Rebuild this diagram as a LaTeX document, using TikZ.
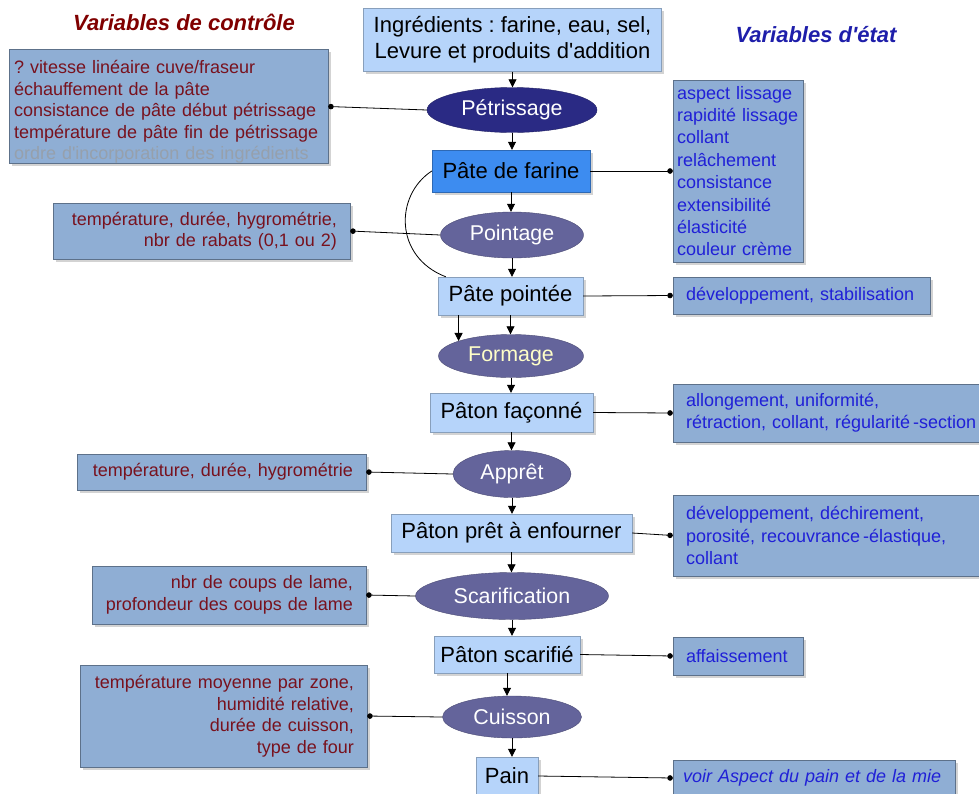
\documentclass[tikz,border=0pt]{standalone}
\usepackage{fontspec}
\setmainfont{Liberation Sans}
% plain family without TeX ligature mapping, so ' stays a straight quote
\newfontfamily\plainsans{Liberation Sans}
\usetikzlibrary{arrows.meta,shapes.geometric,shadows}

\definecolor{procbox}{RGB}{182,212,250}
\definecolor{doughbox}{RGB}{61,140,240}
\definecolor{sidebox}{RGB}{143,174,212}
\definecolor{stepdark}{RGB}{42,42,132}
\definecolor{stepmid}{RGB}{100,100,155}
\definecolor{ctltext}{RGB}{120,18,30}
\definecolor{statetext}{RGB}{32,32,215}
\definecolor{fadedtext}{RGB}{150,160,172}
\definecolor{ctltitle}{RGB}{128,0,0}
\definecolor{statetitle}{RGB}{30,30,170}
\definecolor{formtext}{RGB}{255,255,200}

\tikzset{
  boxshadow/.style={drop shadow={shadow xshift=2.5pt, shadow yshift=-2.5pt, opacity=0.35}},
  product/.style={rectangle, fill=procbox, draw=procbox!75!black, line width=0.4pt,
    inner sep=0pt, align=center, font=\plainsans\frenchspacing\fontsize{22}{26}\selectfont, boxshadow},
  stage/.style={ellipse, fill=stepmid, draw=stepmid!75!black, line width=0.4pt,
    inner sep=0pt, text=white, font=\plainsans\fontsize{21.4}{25}\selectfont},
  ctlbox/.style={rectangle, fill=sidebox, draw=sidebox!65!black, line width=0.4pt,
    inner xsep=13pt, inner ysep=0pt, align=right, text=ctltext,
    font=\plainsans\frenchspacing\fontsize{18}{21.5}\selectfont, boxshadow},
  statebox/.style={rectangle, fill=sidebox, draw=sidebox!65!black, line width=0.4pt,
    inner xsep=13pt, inner ysep=0pt, align=left, text=statetext,
    font=\plainsans\frenchspacing\fontsize{18}{22.4}\selectfont, boxshadow},
  flow/.style={-{Triangle[length=8pt,width=8pt]}, line width=0.8pt},
  link/.style={-{Circle[length=5.5pt]}, line width=0.8pt},
  title/.style={font=\plainsans\fontsize{22}{26}\selectfont\bfseries\itshape},
}

\begin{document}
\begin{tikzpicture}[x=1pt, y=-1pt]
\useasboundingbox (0,0) rectangle (979,793);

% column titles
\node[title, text=ctltitle] (tctl) at (184,22) {Variables de contrôle};
\node[title, text=statetitle] (tstate) at (816,35) {Variables d'état};

% process chain
\node[product, minimum width=298, minimum height=63] (ing) at (512.5,40)
  {Ingrédients : farine, eau, sel,\\Levure et produits d'addition};
\node[stage, fill=stepdark, draw=stepdark!75!black, minimum width=170, minimum height=45] (petr) at (512,110) {Pétrissage};
\node[product, fill=doughbox, draw=doughbox!75!black, minimum width=158, minimum height=42] (pdf) at (511,171) {Pâte de farine};
\node[stage, minimum width=143, minimum height=46] (point) at (512,235) {Pointage};
\node[product, minimum width=145, minimum height=38] (pp) at (510.5,296) {Pâte pointée};
\node[stage, text=formtext, minimum width=145, minimum height=43] (form) at (511,356) {Formage};
\node[product, minimum width=163, minimum height=39] (pf) at (511.5,412.5) {Pâton façonné};
\node[stage, minimum width=118, minimum height=47] (appr) at (512,474) {Apprêt};
\node[product, minimum width=241, minimum height=38] (ppe) at (511.5,533) {Pâton prêt à enfourner};
\node[stage, minimum width=193, minimum height=47] (scar) at (512,596) {Scarification};
\node[product, minimum width=146, minimum height=37] (ps) at (507,654.5) {Pâton scarifié};
\node[stage, minimum width=139, minimum height=42] (cuis) at (512,717) {Cuisson};
\node[product, minimum width=62, minimum height=38] (pain) at (507,776) {Pain};

% control variables
\node[ctlbox, inner xsep=5pt, align=left, text width=309, minimum height=113] (c1) at (168.5,106.5)
  {\rule{0pt}{24pt}? vitesse linéaire cuve/fraseur\\échauffement de la pâte\\consistance de pâte début pétrissage\\température de pâte fin de pétrissage\\\textcolor{fadedtext}{ordre d'incorporation des ingrédients}};
\node[ctlbox, text width=271, minimum height=56] (c2) at (201.5,231)
  {température, durée, hygrométrie,\\nbr de rabats (0,1 ou 2)};
\node[ctlbox, text width=263, minimum height=36] (c3) at (221.5,472)
  {température, durée, hygrométrie};
\node[ctlbox, text width=248, minimum height=58] (c4) at (229,595)
  {nbr de coups de lame,\\profondeur des coups de lame};
\node[ctlbox, text width=261, minimum height=102] (c5) at (223.5,716)
  {température moyenne par zone,\\humidité relative,\\durée de cuisson,\\type de four};

% state variables
\node[statebox, inner xsep=4pt, text width=122, minimum height=182] (s1) at (738,171)
  {aspect lissage\\rapidité lissage\\collant\\relâchement\\consistance\\extensibilité\\élasticité\\couleur crème};
\node[statebox, text width=231, minimum height=37] (s2) at (801.5,295.5)
  {développement, stabilisation};
\node[statebox, text width=291, minimum height=58] (s3) at (831.5,413)
  {allongement, uniformité,\\rétraction, collant, régularité\,-section};
\node[statebox, text width=291, minimum height=81] (s4) at (831.5,535.5)
  {développement, déchirement,\\porosité, recouvrance\,-élastique,\\collant};
\node[statebox, text width=104, minimum height=38] (s5) at (738,656)
  {affaissement};
\node[statebox, inner xsep=10pt, text width=262, minimum height=36] (s6) at (814,778)
  {\itshape voir Aspect du pain et de la mie};

% main flow
\foreach \a/\b in {ing/petr, petr/pdf, pdf/point, point/pp, pp/form, form/pf,
                   pf/appr, appr/ppe, ppe/scar, scar/ps, ps/cuis, cuis/pain}
  \draw[flow] (\a.south) -- (\a.south |- \b.north);

% bypass from the flour dough to the proofed dough
\draw[line width=0.8pt] (pdf.west) .. controls +(-37,24) and +(-52,-20) .. ([xshift=8pt]pp.north west);
\draw[flow] (pp.south west -| form.164) -- (form.164);

% links to the control variables
\draw[link] (petr.west) -- (c1.east);
\draw[link] (point.west) -- (c2.east);
\draw[link] (appr.west) -- (c3.east);
\draw[link] (scar.west) -- (c4.east);
\draw[link] (cuis.west) -- (c5.east);

% links to the state variables
\draw[link] (pdf.east) -- (s1.west);
\draw[link] (pp.east) -- (s2.west);
\draw[link] (pf.east) -- (s3.west);
\draw[link] (ppe.east) -- (s4.west);
\draw[link] (ps.east) -- (s5.west);
\draw[link] (pain.east) -- (s6.west);
\end{tikzpicture}
\end{document}
